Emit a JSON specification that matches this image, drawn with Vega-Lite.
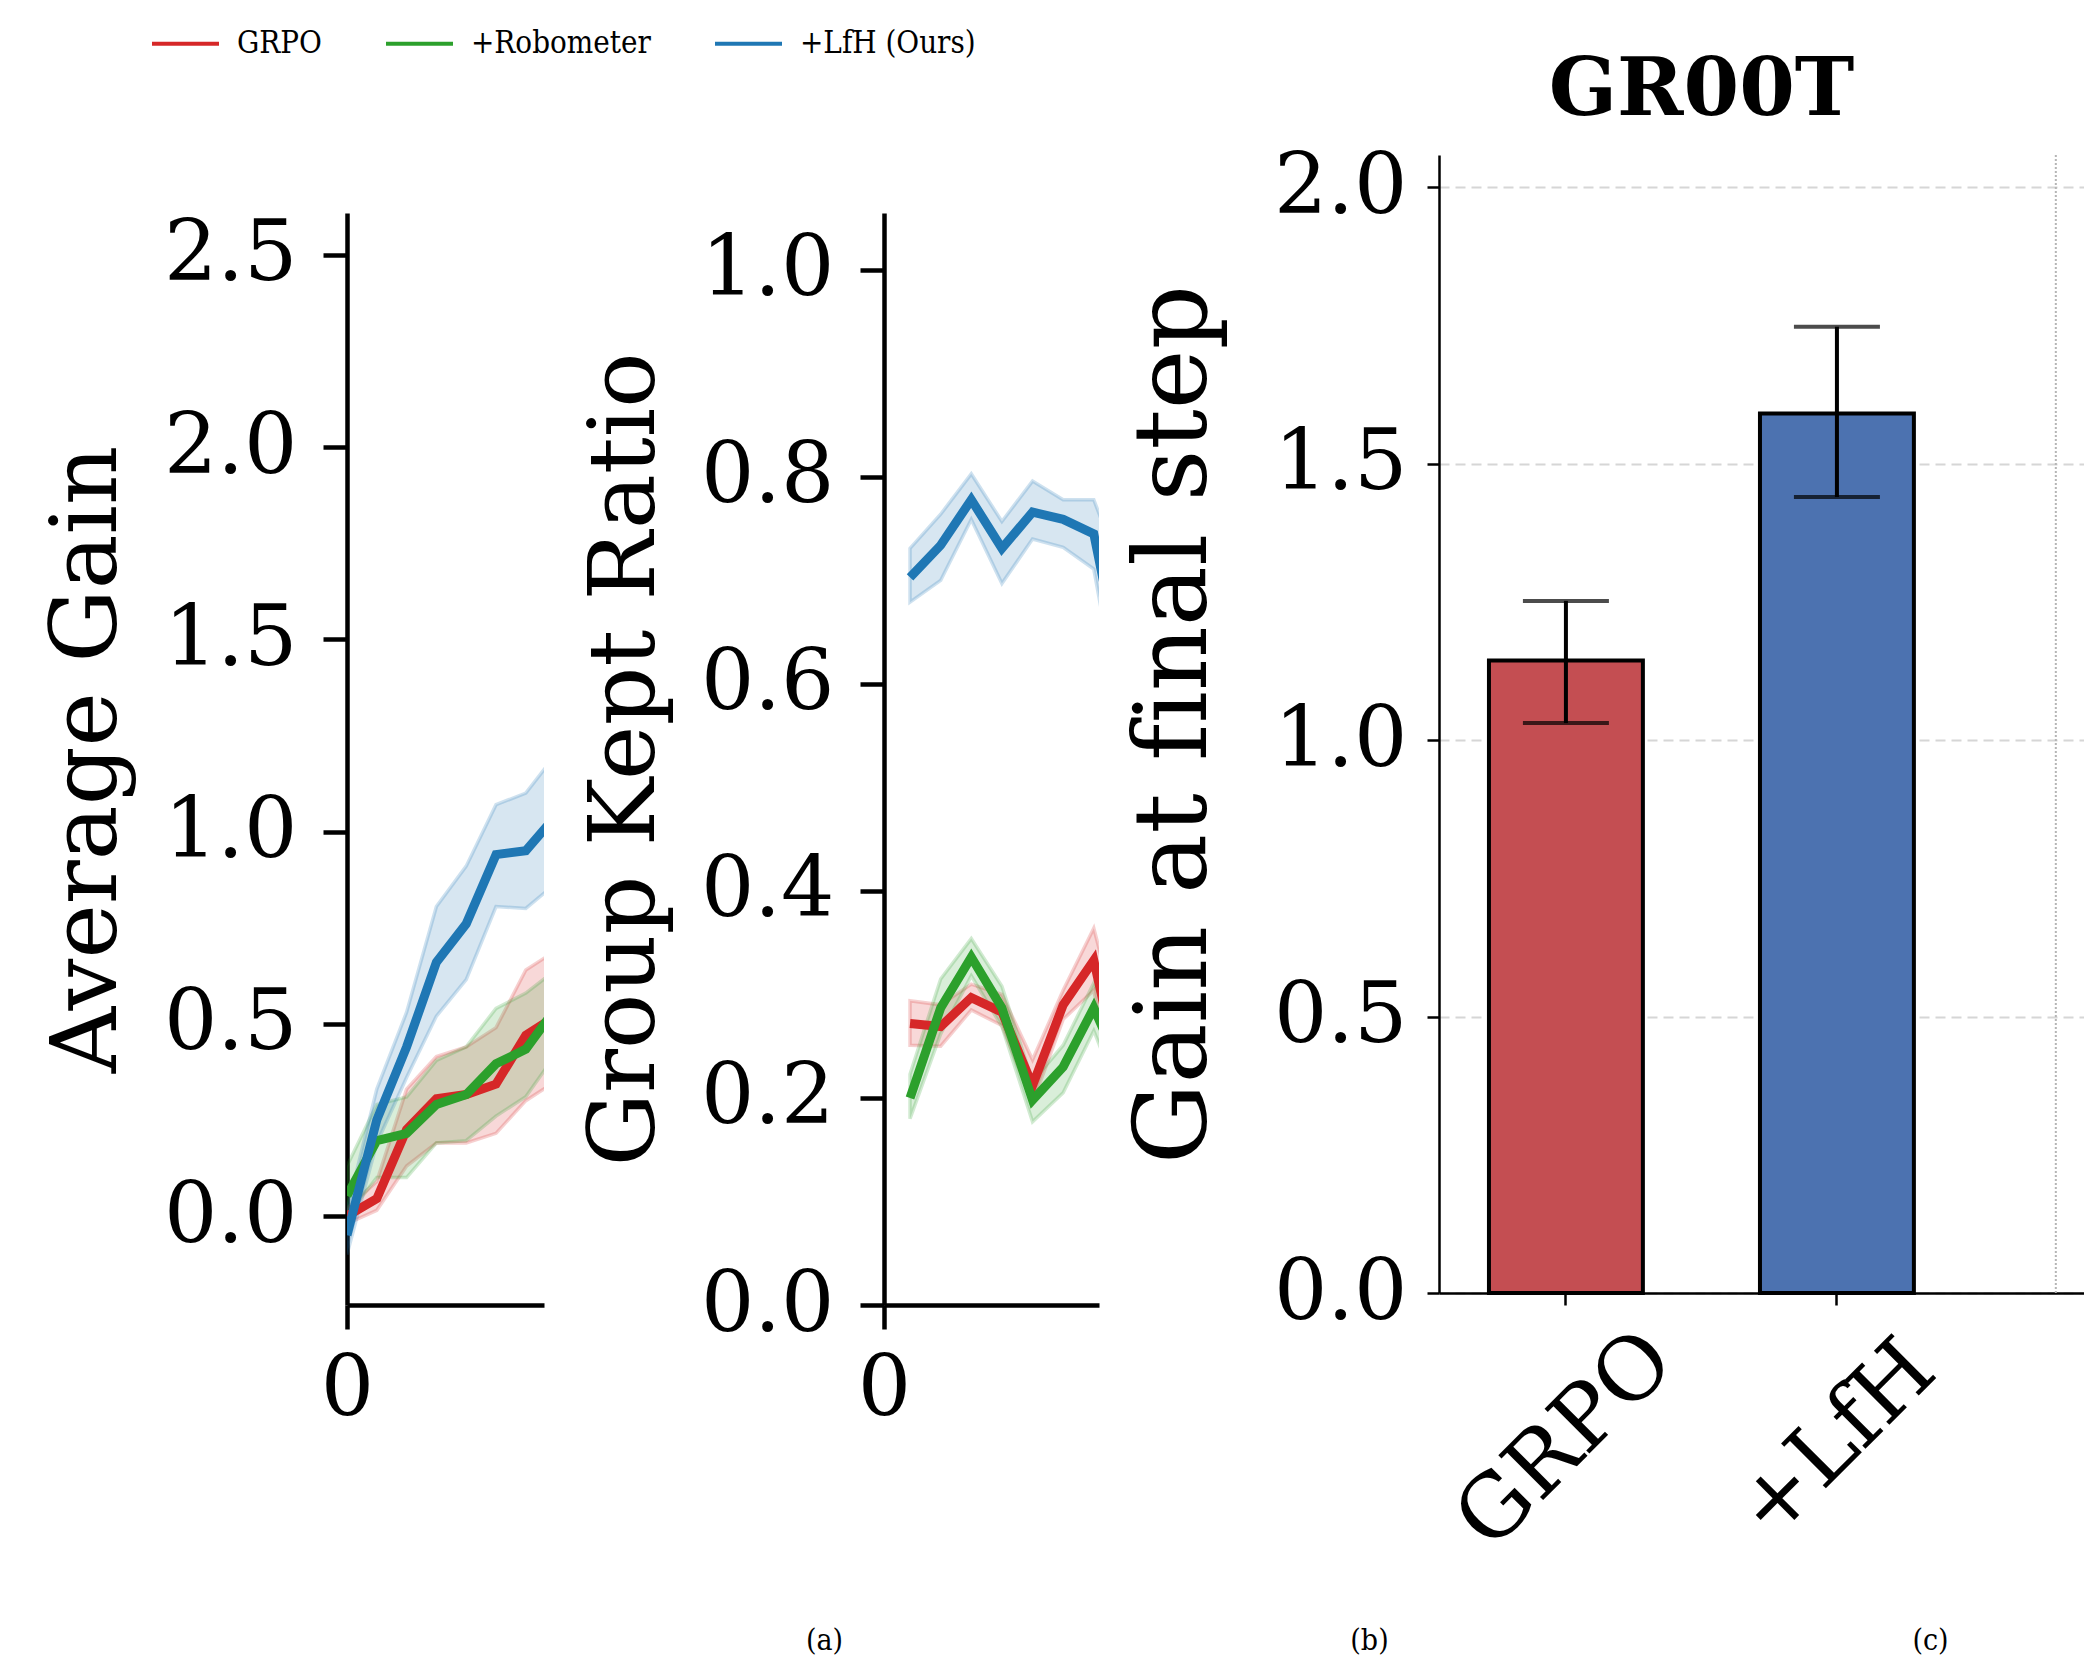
{
  "$schema": "https://vega.github.io/schema/vega-lite/v6.json",
  "background": "white",
  "padding": {"left": 41, "top": 8, "right": 0, "bottom": 0},
  "bounds": "flush",
  "spacing": 340,
  "config": {
    "font": "DejaVu Serif",
    "view": {"stroke": null},
    "axis": {"grid": false, "labelFont": "DejaVu Serif", "titleFont": "DejaVu Serif", "labelColor": "black", "titleColor": "black", "domainColor": "black", "tickColor": "black", "titleFontWeight": "normal", "labelFlush": false, "labelOverlap": false, "labelLimit": 0}
  },
  "resolve": {"scale": {"fill": "independent", "stroke": "independent"}},
  "datasets": {
    "gain": [
      {"method": "GRPO", "step": 0, "mean": 0.0, "lo": -0.02, "hi": 0.02},
      {"method": "GRPO", "step": 1, "mean": 0.045, "lo": 0.015, "hi": 0.09},
      {"method": "GRPO", "step": 2, "mean": 0.225, "lo": 0.13, "hi": 0.33},
      {"method": "GRPO", "step": 3, "mean": 0.305, "lo": 0.19, "hi": 0.415},
      {"method": "GRPO", "step": 4, "mean": 0.316, "lo": 0.19, "hi": 0.44},
      {"method": "GRPO", "step": 5, "mean": 0.343, "lo": 0.215, "hi": 0.49},
      {"method": "GRPO", "step": 6, "mean": 0.47, "lo": 0.30, "hi": 0.64},
      {"method": "GRPO", "step": 7, "mean": 0.52, "lo": 0.35, "hi": 0.69},
      {"method": "+Robometer", "step": 0, "mean": 0.053, "lo": 0.0, "hi": 0.13},
      {"method": "+Robometer", "step": 1, "mean": 0.196, "lo": 0.10, "hi": 0.29},
      {"method": "+Robometer", "step": 2, "mean": 0.215, "lo": 0.10, "hi": 0.31},
      {"method": "+Robometer", "step": 3, "mean": 0.29, "lo": 0.19, "hi": 0.405},
      {"method": "+Robometer", "step": 4, "mean": 0.316, "lo": 0.196, "hi": 0.44},
      {"method": "+Robometer", "step": 5, "mean": 0.396, "lo": 0.26, "hi": 0.54},
      {"method": "+Robometer", "step": 6, "mean": 0.434, "lo": 0.31, "hi": 0.58},
      {"method": "+Robometer", "step": 7, "mean": 0.54, "lo": 0.42, "hi": 0.64},
      {"method": "+LfH (Ours)", "step": 0, "mean": -0.05, "lo": -0.10, "hi": 0.015},
      {"method": "+LfH (Ours)", "step": 1, "mean": 0.25, "lo": 0.19, "hi": 0.33},
      {"method": "+LfH (Ours)", "step": 2, "mean": 0.44, "lo": 0.36, "hi": 0.53},
      {"method": "+LfH (Ours)", "step": 3, "mean": 0.66, "lo": 0.52, "hi": 0.805},
      {"method": "+LfH (Ours)", "step": 4, "mean": 0.76, "lo": 0.615, "hi": 0.91},
      {"method": "+LfH (Ours)", "step": 5, "mean": 0.94, "lo": 0.805, "hi": 1.07},
      {"method": "+LfH (Ours)", "step": 6, "mean": 0.95, "lo": 0.80, "hi": 1.10},
      {"method": "+LfH (Ours)", "step": 7, "mean": 1.04, "lo": 0.865, "hi": 1.20}
    ],
    "kept": [
      {"method": "GRPO", "step": 0.85, "mean": 0.272, "lo": 0.251, "hi": 0.294},
      {"method": "GRPO", "step": 1.85, "mean": 0.269, "lo": 0.25, "hi": 0.29},
      {"method": "GRPO", "step": 2.85, "mean": 0.297, "lo": 0.285, "hi": 0.31},
      {"method": "GRPO", "step": 3.85, "mean": 0.283, "lo": 0.27, "hi": 0.30},
      {"method": "GRPO", "step": 4.85, "mean": 0.212, "lo": 0.195, "hi": 0.237},
      {"method": "GRPO", "step": 5.85, "mean": 0.29, "lo": 0.276, "hi": 0.304},
      {"method": "GRPO", "step": 6.85, "mean": 0.333, "lo": 0.304, "hi": 0.364},
      {"method": "GRPO", "step": 7.85, "mean": 0.20, "lo": 0.15, "hi": 0.25},
      {"method": "+Robometer", "step": 0.85, "mean": 0.2, "lo": 0.18, "hi": 0.223},
      {"method": "+Robometer", "step": 1.85, "mean": 0.287, "lo": 0.262, "hi": 0.315},
      {"method": "+Robometer", "step": 2.85, "mean": 0.336, "lo": 0.318, "hi": 0.354},
      {"method": "+Robometer", "step": 3.85, "mean": 0.287, "lo": 0.269, "hi": 0.308},
      {"method": "+Robometer", "step": 4.85, "mean": 0.198, "lo": 0.177, "hi": 0.216},
      {"method": "+Robometer", "step": 5.85, "mean": 0.23, "lo": 0.205, "hi": 0.251},
      {"method": "+Robometer", "step": 6.85, "mean": 0.287, "lo": 0.265, "hi": 0.311},
      {"method": "+Robometer", "step": 7.85, "mean": 0.22, "lo": 0.19, "hi": 0.25},
      {"method": "+LfH (Ours)", "step": 0.85, "mean": 0.703, "lo": 0.679, "hi": 0.731},
      {"method": "+LfH (Ours)", "step": 1.85, "mean": 0.734, "lo": 0.70, "hi": 0.764},
      {"method": "+LfH (Ours)", "step": 2.85, "mean": 0.778, "lo": 0.759, "hi": 0.803},
      {"method": "+LfH (Ours)", "step": 3.85, "mean": 0.731, "lo": 0.697, "hi": 0.757},
      {"method": "+LfH (Ours)", "step": 4.85, "mean": 0.766, "lo": 0.74, "hi": 0.796},
      {"method": "+LfH (Ours)", "step": 5.85, "mean": 0.759, "lo": 0.732, "hi": 0.778},
      {"method": "+LfH (Ours)", "step": 6.85, "mean": 0.745, "lo": 0.711, "hi": 0.778},
      {"method": "+LfH (Ours)", "step": 7.85, "mean": 0.60, "lo": 0.55, "hi": 0.70}
    ],
    "bars": [
      {"method": "GRPO", "gain": 1.144, "lo": 1.031, "hi": 1.252},
      {"method": "+LfH", "gain": 1.591, "lo": 1.44, "hi": 1.748}
    ]
  },
  "hconcat": [
    {
      "width": 197, "height": 1150,
      "data": {"name": "gain"},
      "encoding": {
        "x": {"field": "step", "type": "quantitative", "scale": {"domain": [0, 6.61], "nice": false, "zero": false},
          "axis": {"title": "(a)", "values": [0], "format": "d", "labelFontSize": 84, "domainWidth": 4.5, "tickWidth": 4.5, "tickSize": 24, "labelPadding": 19, "titleFont": "DejaVu Serif Condensed, DejaVu Serif", "titleFontSize": 30, "titleX": 477, "titleY": 344, "titleBaseline": "alphabetic", "titleAlign": "center"}}
      },
      "layer": [
        {
          "mark": {"type": "area", "clip": true, "fillOpacity": 0.18, "strokeOpacity": 0.22, "strokeWidth": 3.5},
          "encoding": {
            "y": {"field": "lo", "type": "quantitative", "title": "Average Gain",
              "scale": {"domain": [-0.2315, 2.609], "range": [1150, 58], "nice": false, "zero": false},
              "axis": {"values": [0, 0.5, 1, 1.5, 2, 2.5], "format": ".1f", "labelFontSize": 84, "titleFontSize": 92, "domainWidth": 4.5, "tickWidth": 4.5, "tickSize": 24, "labelPadding": 26, "titleX": -232, "titleY": 604, "titleAngle": 270, "titleAlign": "center", "titleBaseline": "alphabetic"}},
            "y2": {"field": "hi"},
            "fill": {"field": "method", "type": "nominal", "scale": {"domain": ["GRPO", "+Robometer", "+LfH (Ours)"], "range": ["#d62728", "#2ca02c", "#1f77b4"]}, "legend": null},
            "stroke": {"field": "method", "type": "nominal", "scale": {"domain": ["GRPO", "+Robometer", "+LfH (Ours)"], "range": ["#d62728", "#2ca02c", "#1f77b4"]}, "legend": null}
          }
        },
        {
          "mark": {"type": "line", "clip": true, "strokeWidth": 9},
          "encoding": {
            "y": {"field": "mean", "type": "quantitative", "title": "Average Gain"},
            "color": {"field": "method", "type": "nominal", "scale": {"domain": ["GRPO", "+Robometer", "+LfH (Ours)"], "range": ["#d62728", "#2ca02c", "#1f77b4"]},
              "legend": {"orient": "none", "legendX": -197, "legendY": -147, "direction": "horizontal", "title": null, "symbolType": "stroke", "symbolSize": 4489, "symbolStrokeWidth": 4, "symbolOpacity": 1, "labelFontSize": 31, "labelFont": "DejaVu Serif Condensed, DejaVu Serif", "labelColor": "black", "labelOffset": 16, "labelLimit": 0, "columnPadding": 56, "padding": 0}}
          }
        }
      ]
    },
    {
      "width": 215, "height": 1150,
      "data": {"name": "kept"},
      "encoding": {
        "x": {"field": "step", "type": "quantitative", "scale": {"domain": [0, 7.02], "nice": false, "zero": false},
          "axis": {"title": "(b)", "values": [0], "format": "d", "labelFontSize": 84, "domainWidth": 4.5, "tickWidth": 4.5, "tickSize": 24, "labelPadding": 19, "titleFont": "DejaVu Serif Condensed, DejaVu Serif", "titleFontSize": 30, "titleX": 485, "titleY": 344, "titleBaseline": "alphabetic", "titleAlign": "center"}}
      },
      "layer": [
        {
          "mark": {"type": "area", "clip": true, "fillOpacity": 0.18, "strokeOpacity": 0.22, "strokeWidth": 3.5},
          "encoding": {
            "y": {"field": "lo", "type": "quantitative", "title": "Group Kept Ratio",
              "scale": {"domain": [0, 1.055], "range": [1150, 58], "nice": false, "zero": false},
              "axis": {"values": [0, 0.2, 0.4, 0.6, 0.8, 1.0], "format": ".1f", "labelFontSize": 84, "titleFontSize": 92, "domainWidth": 4.5, "tickWidth": 4.5, "tickSize": 24, "labelPadding": 26, "titleX": -231, "titleY": 604, "titleAngle": 270, "titleAlign": "center", "titleBaseline": "alphabetic"}},
            "y2": {"field": "hi"},
            "fill": {"field": "method", "type": "nominal", "scale": {"domain": ["GRPO", "+Robometer", "+LfH (Ours)"], "range": ["#d62728", "#2ca02c", "#1f77b4"]}, "legend": null},
            "stroke": {"field": "method", "type": "nominal", "scale": {"domain": ["GRPO", "+Robometer", "+LfH (Ours)"], "range": ["#d62728", "#2ca02c", "#1f77b4"]}, "legend": null}
          }
        },
        {
          "mark": {"type": "line", "clip": true, "strokeWidth": 9},
          "encoding": {
            "y": {"field": "mean", "type": "quantitative", "title": "Group Kept Ratio"},
            "color": {"field": "method", "type": "nominal", "scale": {"domain": ["GRPO", "+Robometer", "+LfH (Ours)"], "range": ["#d62728", "#2ca02c", "#1f77b4"]},
              "legend": {"orient": "none", "legendX": -197, "legendY": -147, "direction": "horizontal", "title": null, "symbolType": "stroke", "symbolSize": 4489, "symbolStrokeWidth": 4, "symbolOpacity": 1, "labelFontSize": 31, "labelFont": "DejaVu Serif Condensed, DejaVu Serif", "labelColor": "black", "labelOffset": 16, "labelLimit": 0, "columnPadding": 56, "padding": 0}}
          }
        }
      ]
    },
    {
      "width": 645, "height": 1138,
      "title": {"text": "GR00T", "fontSize": 80, "fontWeight": "bold", "font": "DejaVu Serif", "anchor": "middle", "dx": -60, "offset": -50, "baseline": "alphabetic", "frame": "group", "color": "black"},
      "data": {"name": "bars"},
      "layer": [
        {
          "mark": {"type": "bar", "stroke": "black", "strokeWidth": 4},
          "encoding": {
            "x": {"field": "method", "type": "nominal", "sort": null, "scale": {"paddingInner": 0.432, "paddingOuter": 0.406, "align": 0.227},
              "axis": {"title": "(c)", "labelAngle": -45, "labelAlign": "center", "labelBaseline": "middle", "labelFontSize": 87, "labelPadding": 135, "tickSize": 12, "tickWidth": 2.5, "domainWidth": 2.5, "titleFont": "DejaVu Serif Condensed, DejaVu Serif", "titleFontSize": 30, "titleX": 491, "titleY": 356, "titleBaseline": "alphabetic", "titleAlign": "center"}},
            "y": {"field": "gain", "type": "quantitative", "title": "Gain at f\u200cinal step", "scale": {"domain": [0, 2.0586], "nice": false},
              "axis": {"values": [0, 0.5, 1, 1.5, 2], "format": ".1f", "labelFontSize": 84, "labelPadding": 20, "tickSize": 12, "tickWidth": 2.5, "domainWidth": 2.5, "titleFontSize": 101, "titleX": -234, "titleY": 569, "titleAngle": 270, "titleAlign": "center", "titleBaseline": "alphabetic", "grid": true, "gridDash": [10, 6], "gridColor": "#d6d6d6", "gridWidth": 2}},
            "fill": {"field": "method", "type": "nominal", "scale": {"domain": ["GRPO", "+LfH"], "range": ["#C44E52", "#4C72B0"]}, "legend": null}
          }
        },
        {
          "mark": {"type": "errorbar", "ticks": true, "size": 86, "thickness": 4, "color": "black"},
          "encoding": {
            "x": {"field": "method", "type": "nominal", "sort": null, "scale": {"paddingInner": 0.432, "paddingOuter": 0.406, "align": 0.227}, "axis": null},
            "y": {"field": "lo", "type": "quantitative", "title": "Gain at f\u200cinal step"},
            "y2": {"field": "hi"}
          }
        },
        {
          "data": {"values": [{"sep": 1.8}]},
          "mark": {"type": "rule", "color": "#b5b5b5", "strokeDash": [2, 2], "strokeWidth": 2},
          "encoding": {
            "x": {"field": "sep", "type": "quantitative", "scale": {"domain": [-0.476, 1.904], "nice": false, "zero": false}, "axis": null}
          }
        }
      ],
      "resolve": {"scale": {"x": "independent"}}
    }
  ]
}
